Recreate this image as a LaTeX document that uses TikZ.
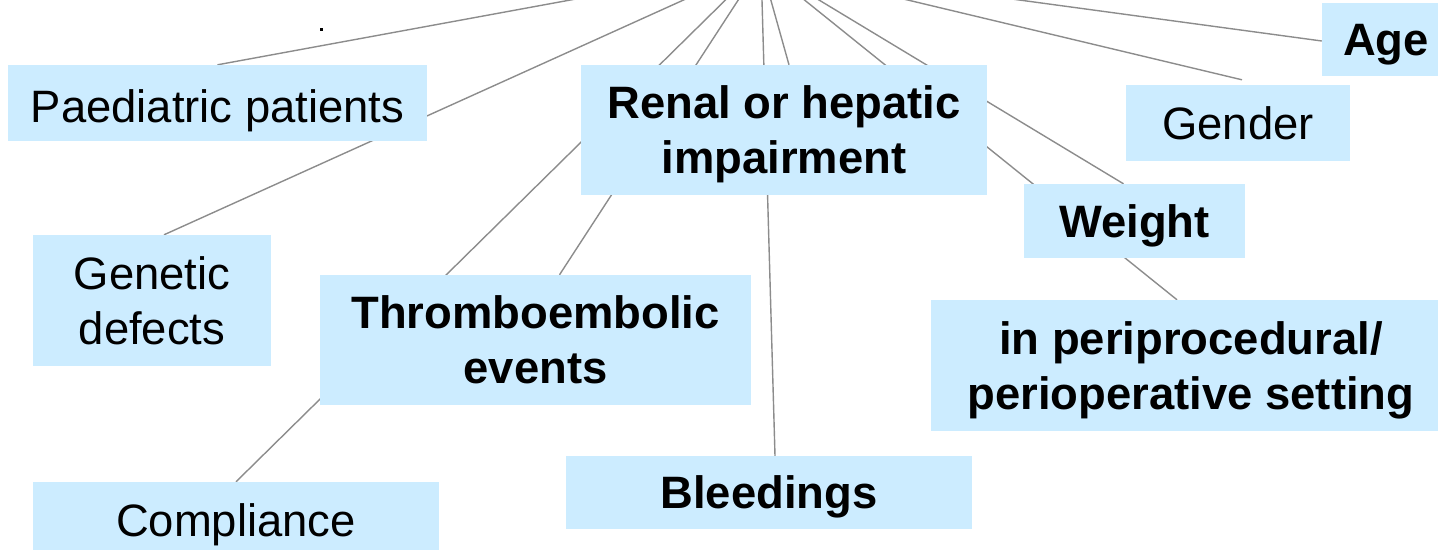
\documentclass[tikz,border=0pt]{standalone}
\usepackage{fontspec}
\setmainfont{Liberation Sans}
\usetikzlibrary{backgrounds}
\definecolor{boxblue}{RGB}{204,236,255}
\definecolor{linegray}{RGB}{140,140,140}
\begin{document}
\begin{tikzpicture}[x=1pt,y=-1pt,
  box/.style={fill=boxblue, inner sep=0pt, align=center, font=\fontsize{45.4}{55}\selectfont},
  boldbox/.style={box, font=\fontsize{45.4}{55}\selectfont\bfseries},
  one/.style={text depth=0pt},
  conn/.style={draw=linegray, line width=1.4pt}]
\useasboundingbox (0,0) rectangle (1438,549);
\coordinate (hub) at (761,-35);
% boxes
\node[box, one, text height=38pt, minimum width=419pt, minimum height=76pt] (paed) at (217.5,103) {Paediatric patients};
\node[box, minimum width=238pt, minimum height=131pt] (gen) at (152,300.5) {Genetic\\defects};
\node[box, one, minimum width=406pt, minimum height=76pt] (compl) at (236,520) {Compliance};
\node[boldbox, minimum width=431pt, minimum height=130pt] (thrombo) at (535.5,340) {Thromboembolic\\events};
\node[boldbox, minimum width=406pt, minimum height=130pt] (renal) at (784,130) {Renal or hepatic\\\smash{impairment}};
\node[boldbox, one, minimum width=406pt, minimum height=73pt] (bleed) at (769,492.5) {Bleedings};
\node[boldbox, one, minimum width=128pt, minimum height=73pt] (age) at (1386,39.5) {Age};
\node[box, one, minimum width=224pt, minimum height=76pt] (gender) at (1238,123) {Gender};
\node[boldbox, one, minimum width=221pt, minimum height=74pt] (weight) at (1134.5,221) {Weight};
\node[boldbox, minimum width=520pt, minimum height=131pt] (peri) at (1191,365.5) {in periprocedural/\\\smash{perioperative setting}};
\node[fill=black, inner sep=0pt, minimum size=2.5pt] (dot) at (321.3,29.7) {};
% connectors
\begin{scope}[on background layer]
\draw[conn] (hub) -- (paed.north);
\draw[conn] (hub) -- ([xshift=12pt]gen.north);
\draw[conn] (hub) -- (compl.north);
\draw[conn] (hub) -- ([xshift=24pt]thrombo.north);
\draw[conn] (hub) -- ([xshift=5pt]renal.north);
\draw[conn] (hub) -- ([xshift=6pt]bleed.north);
\draw[conn] (hub) -- ([xshift=-11pt]weight.north);
\draw[conn] (hub) -- ([xshift=-14pt]peri.north);
\draw[conn] (hub) -- ([xshift=4pt,yshift=5pt]gender.north);
\draw[conn] (hub) -- ([yshift=-1.5pt]age.west);
\end{scope}
\end{tikzpicture}
\end{document}
